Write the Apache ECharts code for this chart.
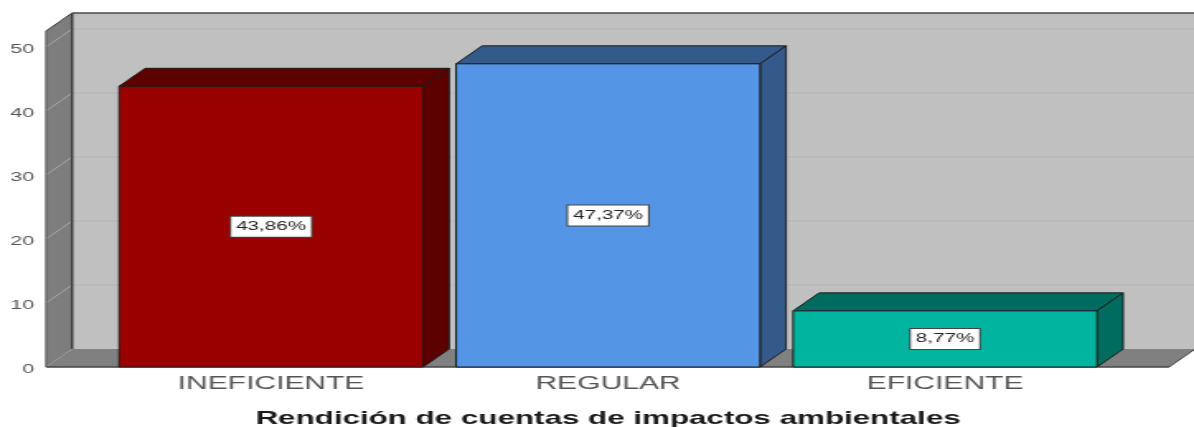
<!DOCTYPE html>
<html><head><meta charset="utf-8">
<style>html,body{margin:0;padding:0;background:#fff;overflow:hidden}
#c{width:724px;height:427px;transform-origin:0 0;transform:scale(1.6492,1);filter:blur(0.45px)}</style>
<script src="https://cdn.jsdelivr.net/npm/echarts@6/dist/echarts.min.js"></script>
</head><body><div id="c"></div>
<script>
const categories = ['INEFICIENTE', 'REGULAR', 'EFICIENTE'];
const percentages = [43.86, 47.37, 8.77];
const percentLabels = ['43,86%', '47,37%', '8,77%'];
const frontColors = ['#990000', '#5595e6', '#00b4a0'];
const shadeColors = ['#5c0000', '#335a8a', '#006c60'];
const wallTicks = [0, 10, 20, 30, 40, 50];
const axisTitle = 'Rendición de cuentas de impactos ambientales';

const DX = 15.8, DY = 18, PAD_L = 34.3, PAD_R = 33.7, EDGE = '#1c1c1c';
const poly = (points, fill, stroke, lw) => ({
  type: 'polygon', shape: { points },
  style: { fill, stroke: stroke || null, lineWidth: lw === undefined ? 1 : lw }
});
const seg = (x1, y1, x2, y2, stroke, lw) => ({
  type: 'line', shape: { x1, y1, x2, y2 }, style: { stroke, lineWidth: lw || 1 }
});

function renderWalls(params, api) {
  const cs = params.coordSys;
  const l = cs.x - PAD_L, r = cs.x + cs.width + PAD_R, t = cs.y, b = cs.y + cs.height;
  const kids = [
    poly([[l + DX, t - DY], [r + DX + 2, t - DY], [r + DX + 2, b - DY], [l + DX, b - DY]], '#c0c0c0'),
    poly([[l, b], [l + DX, b - DY], [r + DX, b - DY], [r, b]], '#808080'),
    poly([[l, t], [l + DX, t - DY], [l + DX, b - DY], [l, b]], '#7d7d7d')
  ];
  wallTicks.slice(1).forEach(v => {
    const y = api.coord([0, v])[1];
    kids.push(seg(l + DX, y - DY, r + DX + 2, y - DY, '#b4b4b4'));
    kids.push(seg(l, y, l + DX, y - DY, '#a8a8a8'));
  });
  kids.push(seg(l + DX, t - DY, r + DX + 2, t - DY, '#4a4a4a', 1.5));
  kids.push(seg(l + DX, t - DY, l + DX, b - DY, '#3a3a3a', 1.5));
  kids.push(seg(l, t, l + DX, t - DY, '#3a3a3a', 1));
  kids.push(seg(l, t, l, b, '#555', 1));
  kids.push(seg(l, b, r, b, '#444', 1.5));
  kids.push(seg(r, b, r + DX, b - DY, '#444', 1));
  return { type: 'group', children: kids };
}

function renderBar(params, api) {
  const i = api.value(0), v = api.value(1);
  const top = api.coord([i, v]), base = api.coord([i, 0]);
  const w = api.size([1, 0])[0] * 0.902;
  const x0 = top[0] - w / 2, x1 = top[0] + w / 2, yt = top[1], yb = base[1];
  return {
    type: 'group',
    children: [
      poly([[x0, yt], [x0 + DX, yt - DY], [x1 + DX, yt - DY], [x1, yt]], shadeColors[i], EDGE),
      poly([[x1, yt], [x1 + DX, yt - DY], [x1 + DX, yb - DY], [x1, yb]], shadeColors[i], EDGE),
      poly([[x0, yt], [x1, yt], [x1, yb], [x0, yb]], frontColors[i], EDGE),
      {
        type: 'text', x: top[0], y: (yt + yb) / 2,
        style: {
          text: percentLabels[i], align: 'center', verticalAlign: 'middle',
          font: '12.5px "Liberation Sans"', fill: '#222',
          backgroundColor: '#fff', borderColor: '#444', borderWidth: 1,
          padding: [4, 3, 3, 3]
        }
      }
    ]
  };
}

const chart = echarts.init(document.getElementById('c'), null, { renderer: 'canvas', width: 724, height: 427 });
chart.setOption({
  animation: false,
  backgroundColor: '#fff',
  grid: { left: 62.2, right: 48.8, top: 31, bottom: 60, outerBoundsMode: 'none' },
  xAxis: {
    type: 'category', data: categories,
    axisLine: { show: false }, axisTick: { show: false }, splitLine: { show: false },
    axisLabel: { fontFamily: 'Liberation Sans', fontSize: 18.2, color: '#555', margin: 8 },
    name: axisTitle, nameLocation: 'middle', nameGap: 42,
    nameTextStyle: { fontFamily: 'Liberation Sans', fontSize: 19, fontWeight: 'bold', color: '#1a1a1a' }
  },
  yAxis: {
    type: 'value', min: 0, max: 52.5, interval: 10,
    axisLine: { show: false }, axisTick: { show: false }, splitLine: { show: false },
    axisLabel: { fontFamily: 'Liberation Sans', fontSize: 13, color: '#555', margin: 41.5, showMaxLabel: false, verticalAlign: 'top', lineHeight: 4 }
  },
  series: [
    { type: 'custom', z: 1, silent: true, clip: false, data: [[0, 0]], encode: { x: 0, y: 1 }, renderItem: renderWalls },
    { type: 'custom', z: 2, silent: true, clip: false,
      data: percentages.map((v, i) => [i, v]), encode: { x: 0, y: 1 }, renderItem: renderBar }
  ]
});
</script></body></html>
